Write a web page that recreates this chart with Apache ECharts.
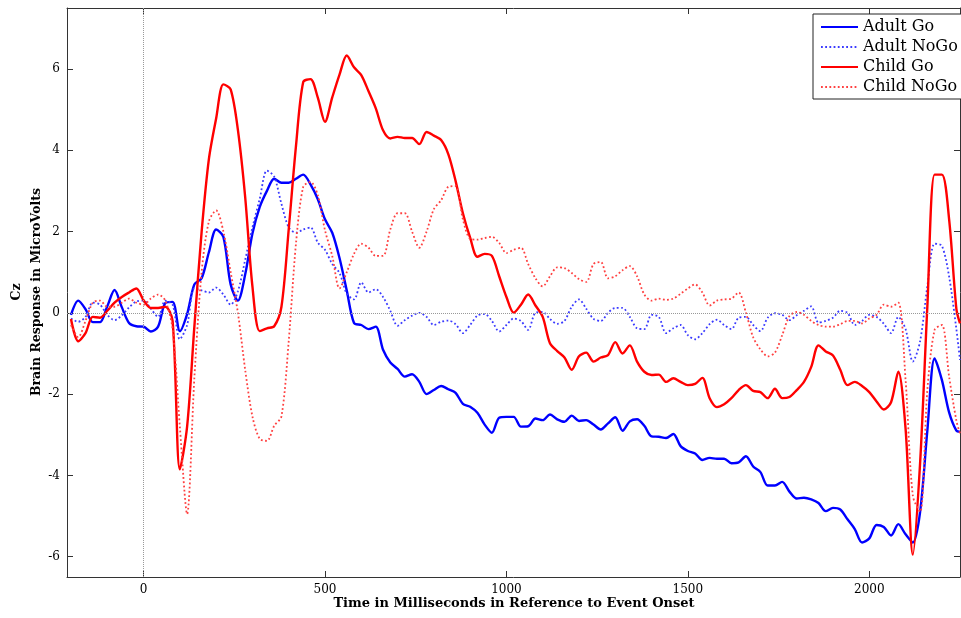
<!DOCTYPE html>
<html>
<head>
<meta charset="utf-8">
<script src="https://cdn.jsdelivr.net/npm/echarts@6/dist/echarts.min.js"></script>
<style>
  html, body { margin: 0; padding: 0; background: #fff; }
  #chart { width: 961px; height: 618px; }
</style>
</head>
<body>
<div id="chart"></div>
<script>
// time in ms relative to event onset
var times = [
  -200, -180, -160, -140, -120, -100, -80, -60, -40, -20,
  0, 20, 40, 60, 80, 100, 120, 140, 160, 180,
  200, 220, 240, 260, 280, 300, 320, 340, 360, 380,
  400, 420, 440, 460, 480, 500, 520, 540, 560, 580,
  600, 620, 640, 660, 680, 700, 720, 740, 760, 780,
  800, 820, 840, 860, 880, 900, 920, 940, 960, 980,
  1000, 1020, 1040, 1060, 1080, 1100, 1120, 1140, 1160, 1180,
  1200, 1220, 1240, 1260, 1280, 1300, 1320, 1340, 1360, 1380,
  1400, 1420, 1440, 1460, 1480, 1500, 1520, 1540, 1560, 1580,
  1600, 1620, 1640, 1660, 1680, 1700, 1720, 1740, 1760, 1780,
  1800, 1820, 1840, 1860, 1880, 1900, 1920, 1940, 1960, 1980,
  2000, 2020, 2040, 2060, 2080, 2100, 2120, 2140, 2160, 2180,
  2200, 2220, 2240, 2250
];

var adultGo = [
  -0.05, 0.3, 0.09, -0.23, -0.23, 0.16, 0.56, 0.14, -0.25, -0.33,
  -0.34, -0.46, -0.34, 0.24, 0.27, -0.45, -0.03, 0.7, 0.85, 1.49,
  2.05, 1.87, 0.7, 0.3, 0.94, 1.95, 2.6, 3.0, 3.3, 3.2,
  3.2, 3.3, 3.4, 3.16, 2.8, 2.3, 1.97, 1.35, 0.55, -0.25,
  -0.3, -0.4, -0.34, -0.91, -1.22, -1.38, -1.57, -1.51, -1.7, -2.0,
  -1.9, -1.8, -1.88, -1.97, -2.24, -2.31, -2.46, -2.75, -2.95, -2.58,
  -2.56, -2.56, -2.8, -2.79, -2.6, -2.64, -2.5, -2.62, -2.68, -2.53,
  -2.66, -2.64, -2.75, -2.87, -2.72, -2.57, -2.9, -2.67, -2.62, -2.78,
  -3.04, -3.05, -3.08, -2.98, -3.28, -3.4, -3.46, -3.62, -3.57, -3.59,
  -3.59, -3.7, -3.68, -3.53, -3.78, -3.92, -4.25, -4.25, -4.16, -4.4,
  -4.57, -4.55, -4.59, -4.68, -4.88, -4.8, -4.84, -5.08, -5.32, -5.65,
  -5.55, -5.22, -5.27, -5.48, -5.2, -5.45, -5.65, -4.9, -2.9, -1.12,
  -1.65, -2.45, -2.9, -2.93
];

var adultNoGo = [
  -0.14, -0.22, -0.1, 0.25, 0.2, -0.05, -0.18, -0.06, 0.13, 0.28,
  0.3, 0.1, -0.1, 0.3, 0.2, -0.65, -0.3, 0.6, 0.55, 0.5,
  0.62, 0.45, 0.2, 0.53, 1.3, 2.1, 2.8, 3.5, 3.35, 2.68,
  2.1, 1.97, 2.05, 2.1, 1.73, 1.55, 1.2, 0.98, 0.47, 0.33,
  0.75, 0.5, 0.58, 0.39, 0.05, -0.32, -0.18, -0.07, 0.0, -0.1,
  -0.3, -0.22, -0.19, -0.28, -0.5, -0.3, -0.07, -0.03, -0.2, -0.46,
  -0.3, -0.14, -0.2, -0.42, 0.0, 0.02, -0.15, -0.27, -0.2, 0.15,
  0.33, 0.1, -0.15, -0.2, 0.0, 0.12, 0.12, -0.1, -0.38, -0.4,
  -0.05, -0.1, -0.5, -0.38, -0.3, -0.55, -0.65, -0.5, -0.28, -0.17,
  -0.3, -0.4, -0.12, -0.1, -0.3, -0.45, -0.12, -0.01, -0.05, -0.18,
  -0.06, 0.05, 0.16, -0.24, -0.2, -0.12, 0.05, 0.0, -0.3, -0.2,
  -0.05, -0.1, -0.27, -0.5, -0.1, -0.4, -1.2, -0.7, 0.65, 1.7,
  1.65, 0.89, -0.4, -1.16
];

var childGo = [
  -0.15, -0.7, -0.5, -0.1, -0.12, 0.05, 0.25, 0.39, 0.5, 0.6,
  0.31, 0.12, 0.12, 0.15, -0.2, -3.85, -2.8, -0.34, 1.99, 3.78,
  4.78, 5.62, 5.5, 4.5, 2.85, 0.65, -0.45, -0.38, -0.33, 0.15,
  2.05, 4.1, 5.68, 5.75, 5.3, 4.7, 5.3, 5.86, 6.33, 6.04,
  5.85, 5.45, 5.03, 4.49, 4.29, 4.33, 4.3, 4.3, 4.15, 4.45,
  4.36, 4.25, 3.9, 3.24, 2.45, 1.85, 1.38, 1.45, 1.4, 0.9,
  0.39, 0.0, 0.2, 0.45, 0.18, -0.1, -0.75, -0.94, -1.1, -1.4,
  -1.07, -0.98, -1.2, -1.1, -1.04, -0.72, -1.0, -0.8, -1.2, -1.45,
  -1.53, -1.52, -1.7, -1.61, -1.7, -1.78, -1.75, -1.6, -2.1, -2.32,
  -2.25, -2.1, -1.9, -1.78, -1.92, -1.95, -2.1, -1.87, -2.1, -2.07,
  -1.9, -1.7, -1.33, -0.8, -0.95, -1.05, -1.4, -1.78, -1.7, -1.8,
  -1.95, -2.18, -2.38, -2.2, -1.45, -2.85, -5.95, -3.7, 0.15, 3.4,
  3.4, 2.3, 0.1, -0.26
];

var childNoGo = [
  -0.3, -0.6, -0.2, 0.25, 0.3, 0.15, 0.15, 0.25, 0.35, 0.25,
  0.2, 0.35, 0.45, 0.3, -0.4, -2.8, -4.95, -1.6, 1.0, 2.25,
  2.52, 2.0, 1.0, 0.0, -1.4, -2.55, -3.1, -3.15, -2.78, -2.55,
  -0.7, 1.7, 3.1, 3.22, 2.9, 2.03, 1.4, 0.6, 1.0, 1.45,
  1.7, 1.6, 1.4, 1.4, 2.05, 2.45, 2.45, 2.0, 1.6, 2.0,
  2.55, 2.77, 3.1, 3.12, 2.3, 1.82, 1.8, 1.84, 1.87, 1.72,
  1.47, 1.55, 1.6, 1.2, 0.85, 0.65, 0.9, 1.12, 1.1, 0.98,
  0.83, 0.76, 1.2, 1.25, 0.85, 0.9, 1.05, 1.15, 0.9, 0.45,
  0.3, 0.35, 0.32, 0.35, 0.47, 0.6, 0.7, 0.5, 0.18, 0.3,
  0.33, 0.35, 0.5, 0.0, -0.6, -0.9, -1.07, -0.98, -0.55, -0.08,
  0.02, -0.05, -0.2, -0.3, -0.34, -0.34, -0.28, -0.2, -0.2, -0.26,
  -0.14, -0.05, 0.2, 0.15, 0.25, -1.65, -4.5, -4.9, -1.9, -0.42,
  -0.3, -1.57, -2.65, -2.97
];

var xTicks = [0, 500, 1000, 1500, 2000];
var yTicks = [-6, -4, -2, 0, 2, 4, 6];

var serif = '"DejaVu Serif", "Liberation Serif", serif';

function pairs(vals) {
  return times.map(function (t, i) { return [t, vals[i]]; });
}

function frameAxis(pos, ticks, min, max, showLabel) {
  return {
    type: 'value',
    position: pos,
    min: min,
    max: max,
    axisLine: { show: true, onZero: false, lineStyle: { color: '#333', width: 1 } },
    axisTick: { show: true, inside: true, length: 6, customValues: ticks, lineStyle: { color: '#333' } },
    axisLabel: {
      show: showLabel, customValues: ticks,
      fontFamily: serif, fontSize: 12, color: '#000', margin: 7,
      formatter: function (v) { return String(v); }
    },
    splitLine: { show: false }
  };
}

var chart = echarts.init(document.getElementById('chart'));
chart.setOption({
  backgroundColor: '#fff',
  animation: false,
  grid: { left: 67, right: 1, top: 8, bottom: 41 },
  xAxis: [
    frameAxis('bottom', xTicks, -211, 2250, true),
    frameAxis('top', xTicks, -211, 2250, false)
  ],
  yAxis: [
    frameAxis('left', yTicks, -6.5, 7.5, true),
    frameAxis('right', yTicks, -6.5, 7.5, false)
  ],
  legend: {
    orient: 'vertical',
    left: 813,
    top: 14,
    itemWidth: 37,
    itemHeight: 14,
    itemGap: 4,
    padding: [5, 4, 4, 7],
    borderColor: '#222',
    borderWidth: 1,
    borderRadius: 0,
    backgroundColor: '#fff',
    itemStyle: { opacity: 0 },
    textStyle: { fontFamily: serif, fontSize: 16, color: '#000' },
    data: ['Adult Go', 'Adult NoGo', 'Child Go', 'Child NoGo']
  },
  graphic: [
    {
      type: 'text', x: 514, y: 604,
      style: {
        text: 'Time in Milliseconds in Reference to Event Onset',
        font: 'bold 13px ' + serif, fill: '#000',
        align: 'center', verticalAlign: 'middle'
      }
    },
    {
      type: 'text', x: 37, y: 292, rotation: Math.PI / 2,
      style: {
        text: 'Brain Response in MicroVolts',
        font: 'bold 12.5px ' + serif, fill: '#000',
        align: 'center', verticalAlign: 'middle'
      }
    },
    {
      type: 'text', x: 17, y: 292, rotation: Math.PI / 2,
      style: {
        text: 'Cz',
        font: 'bold 12.5px ' + serif, fill: '#000',
        align: 'center', verticalAlign: 'middle'
      }
    }
  ],
  series: [
    {
      name: 'Adult Go', type: 'line', symbol: 'none', smooth: 0.3,
      data: pairs(adultGo),
      itemStyle: { color: '#0000ff' },
      lineStyle: { color: '#0000ff', width: 2.4 },
      markLine: {
        silent: true, symbol: ['none', 'none'], label: { show: false },
        lineStyle: { color: '#999', type: 'dotted', width: 1 },
        data: [{ yAxis: 0 }, { xAxis: 0 }]
      }
    },
    {
      name: 'Adult NoGo', type: 'line', symbol: 'none', smooth: 0.3,
      data: pairs(adultNoGo),
      itemStyle: { color: '#3a3aff' },
      lineStyle: { color: '#3a3aff', width: 1.8, type: [1.8, 2.4] }
    },
    {
      name: 'Child Go', type: 'line', symbol: 'none', smooth: 0.3,
      data: pairs(childGo),
      itemStyle: { color: '#ff0000' },
      lineStyle: { color: '#ff0000', width: 2.4 }
    },
    {
      name: 'Child NoGo', type: 'line', symbol: 'none', smooth: 0.3,
      data: pairs(childNoGo),
      itemStyle: { color: '#ff4040' },
      lineStyle: { color: '#ff4040', width: 1.8, type: [1.8, 2.4] }
    }
  ]
});
</script>
</body>
</html>
